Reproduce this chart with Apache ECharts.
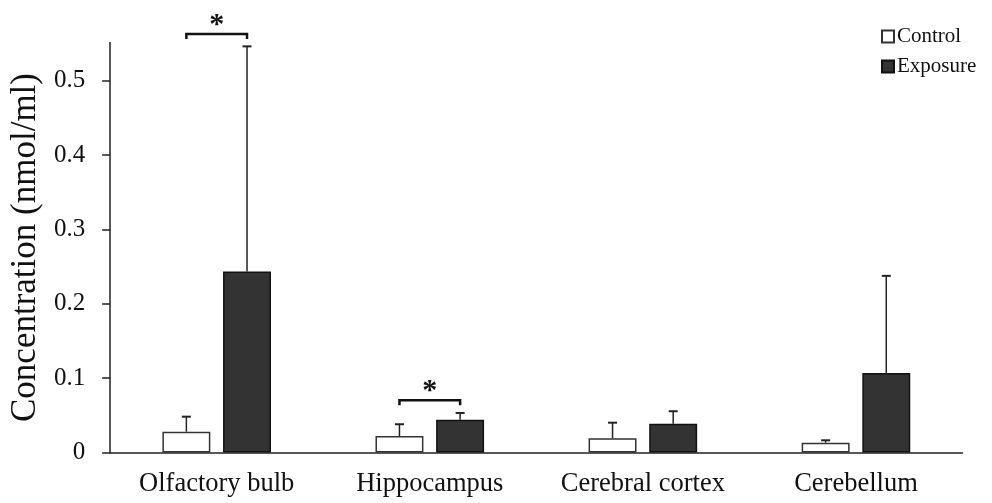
<!DOCTYPE html>
<html>
<head>
<meta charset="utf-8">
<script src="https://cdn.jsdelivr.net/npm/echarts@6/dist/echarts.min.js"></script>
<style>html,body{margin:0;padding:0;background:#fff}#c{width:992px;height:503px}</style>
</head>
<body>
<div id="c"></div>
<script>
var categories = ['Olfactory bulb', 'Hippocampus', 'Cerebral cortex', 'Cerebellum'];
var controlMean = [0.028, 0.0222, 0.0191, 0.0132];
var controlErr = [0.0202, 0.0158, 0.021, 0.0032];
var exposureMean = [0.2433, 0.0441, 0.0388, 0.107];
var exposureErr = [0.303, 0.0091, 0.0167, 0.1306];
var yTicks = [0, 0.1, 0.2, 0.3, 0.4, 0.5];
var sigCats = [0, 1];
var sigLevels = [0.563, 0.0703];

var FONT = '"Liberation Serif", "Times New Roman", serif';
var BAR_FRAC = 0.225, GAP_FRAC = 0.265;

function offsetFor(band, side) {
  var w = band * BAR_FRAC;
  return side * (w / 2 + w * GAP_FRAC / 2);
}

function errRender(side) {
  return function (params, api) {
    var c = api.value(0), m = api.value(1), e = api.value(2);
    var band = api.size([1, 0])[0];
    var off = offsetFor(band, side);
    var p0 = api.coord([c, m]);
    var p1 = api.coord([c, m + e]);
    var x = p0[0] + off;
    return {
      type: 'group',
      children: [
        {type: 'line', shape: {x1: x, y1: p0[1], x2: x, y2: p1[1]}, style: {stroke: '#222', lineWidth: 1.5}},
        {type: 'line', shape: {x1: x - 4.5, y1: p1[1], x2: x + 4.5, y2: p1[1]}, style: {stroke: '#222', lineWidth: 2}}
      ]
    };
  };
}

var chart = echarts.init(document.getElementById('c'), null, {renderer: 'canvas'});
chart.setOption({
  animation: false,
  backgroundColor: '#fff',
  grid: {left: 110, right: 29.5, top: 42.5, bottom: 50.5, containLabel: false},
  legend: {
    orient: 'vertical', left: 881, top: 26, itemWidth: 12, itemHeight: 12, itemGap: 9, padding: 0,
    icon: 'rect',
    textStyle: {fontFamily: FONT, fontSize: 21, color: '#111', padding: [0, 0, 0, -2]},
    data: ['Control', 'Exposure']
  },
  xAxis: {
    type: 'category', data: categories,
    axisLine: {lineStyle: {color: '#222', width: 1.5}},
    axisTick: {show: false},
    axisLabel: {fontFamily: FONT, fontSize: 26.5, color: '#111', margin: 18, interval: 0, hideOverlap: false}
  },
  yAxis: {
    type: 'value', min: 0, max: 0.5515,
    name: 'Concentration (nmol/ml)', nameLocation: 'middle', nameGap: 66,
    nameTextStyle: {fontFamily: FONT, fontSize: 35, color: '#111'},
    splitLine: {show: false},
    axisLine: {show: true, lineStyle: {color: '#222', width: 1.5}},
    axisTick: {show: true, length: 8, customValues: yTicks, lineStyle: {color: '#222', width: 1.5}},
    axisLabel: {fontFamily: FONT, fontSize: 25, color: '#111', margin: 25, customValues: yTicks,
      formatter: function (v) { return String(v); }}
  },
  series: [
    {
      name: 'Control', type: 'bar', data: controlMean,
      barWidth: (BAR_FRAC * 100) + '%', barGap: (GAP_FRAC * 100) + '%',
      itemStyle: {color: '#fff', borderColor: '#333', borderWidth: 1.5}
    },
    {
      name: 'Exposure', type: 'bar', data: exposureMean,
      barWidth: (BAR_FRAC * 100) + '%', barGap: (GAP_FRAC * 100) + '%',
      itemStyle: {color: '#333', borderColor: '#111', borderWidth: 1.5}
    },
    {
      type: 'custom', name: 'ctrlErr', renderItem: errRender(-1), z: 5, clip: false,
      data: categories.map(function (c, i) { return [i, controlMean[i], controlErr[i]]; })
    },
    {
      type: 'custom', name: 'expErr', renderItem: errRender(1), z: 5, clip: false,
      data: categories.map(function (c, i) { return [i, exposureMean[i], exposureErr[i]]; })
    },
    {
      type: 'custom', name: 'sig', z: 6, clip: false,
      renderItem: function (params, api) {
        var c = api.value(0), lvl = api.value(1);
        var band = api.size([1, 0])[0];
        var p = api.coord([c, lvl]);
        var xl = p[0] + offsetFor(band, -1), xr = p[0] + offsetFor(band, 1);
        var y = p[1];
        return {
          type: 'group',
          children: [
            {type: 'polyline', shape: {points: [[xl, y + 5], [xl, y], [xr, y], [xr, y + 5]]},
              style: {stroke: '#111', lineWidth: 2.5, fill: null}},
            {type: 'text', x: (xl + xr) / 2, y: y - 9,
              style: {text: '*', fontFamily: FONT, fontSize: 30, fontWeight: 'bold', fill: '#111', align: 'center', verticalAlign: 'middle'}}
          ]
        };
      },
      data: sigCats.map(function (c, i) { return [c, sigLevels[i]]; })
    }
  ]
});
</script>
</body>
</html>
